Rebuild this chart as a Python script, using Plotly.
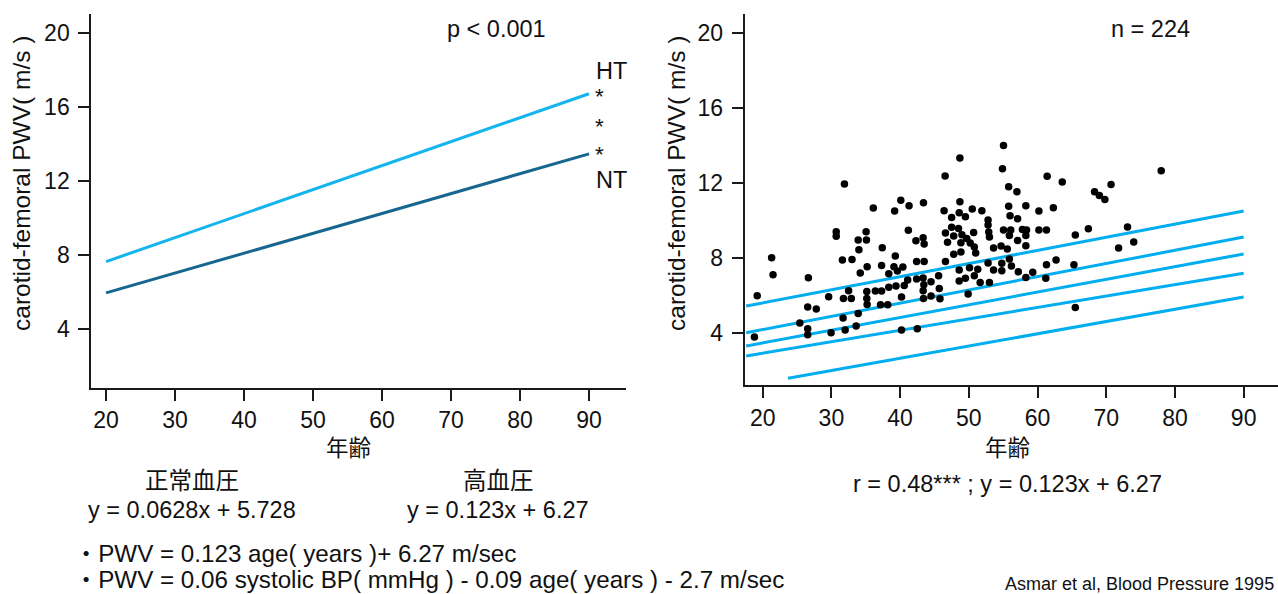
import plotly.graph_objects as go

# ---------------- data ----------------
age_ends = [20, 90]
ht_pwv = [7.65, 16.7]     # hypertensive regression line (left panel)
nt_pwv = [5.96, 13.46]    # normotensive regression line (left panel)

ref_x_start = [17.6, 17.6, 17.6, 17.6, 23.7]
ref_x_end = [90, 90, 90, 90, 90]
ref_y_start = [5.42, 4.00, 3.29, 2.76, 1.57]
ref_y_end = [10.49, 9.10, 8.20, 7.17, 5.90]

ages = [19.2, 18.8, 21.3, 21.5, 26.65, 25.4, 26.55, 27.8, 26.55, 26.55,
        29.6, 29.95, 31.9, 30.7, 30.7, 31.6, 33.0, 31.75, 32.5, 32.9,
        31.7, 32.0, 33.6, 33.9, 33.9, 35.1, 35.05, 34.0, 34.2, 35.2,
        36.1, 35.15, 35.15, 35.2, 36.4, 37.3, 37.3, 37.4, 37.15, 38.2,
        38.35, 38.35, 39.2, 40.1, 41.3, 39.3, 39.1, 39.6, 40.4, 39.4,
        40.6, 40.2, 40.2, 42.5, 41.2, 41.1, 42.3, 42.4, 43.5, 43.35,
        43.5, 43.4, 42.4, 43.35, 43.45, 43.35, 43.4, 44.5, 44.5, 45.6,
        45.7, 45.8, 46.55, 46.4, 46.6, 46.6, 46.9, 47.5, 47.5, 47.8,
        47.8, 48.5, 48.6, 48.7, 48.7, 48.85, 49.0, 48.85, 49.5, 49.7,
        50.2, 50.5, 50.7, 50.8, 51.0, 51.9, 48.6, 48.6, 49.5, 50.1,
        50.8, 51.3, 51.65, 49.9, 52.8, 53.0, 52.8, 52.8, 52.9, 53.0,
        53.6, 53.6, 54.7, 54.8, 54.8, 55.05, 54.9, 55.8, 55.8, 55.05,
        57.0, 61.4, 63.6, 78.0, 70.7, 68.3, 69.0, 69.8, 58.3, 60.2,
        62.3, 56.0, 57.1, 56.1, 57.8, 58.4, 60.2, 61.3, 55.9, 58.3,
        57.1, 55.6, 58.3, 65.5, 67.4, 73.1, 74.0, 71.8, 55.9, 56.2,
        57.2, 58.3, 59.3, 61.3, 61.2, 62.7, 65.3, 65.5]
pwv = [5.97, 3.77, 8.0, 7.09, 6.93, 4.52, 5.37, 5.26, 4.21, 3.89,
       5.92, 4.0, 11.93, 9.39, 9.14, 7.88, 7.91, 5.83, 6.24, 5.83,
       4.78, 4.14, 4.36, 5.03, 8.94, 8.94, 9.39, 8.43, 7.18, 7.52,
       10.65, 6.20, 5.83, 5.5, 6.22, 6.22, 7.59, 8.53, 5.49, 5.49,
       7.15, 6.42, 10.49, 11.06, 10.77, 8.09, 7.52, 7.29, 7.50, 6.49,
       6.52, 5.90, 4.14, 4.21, 9.46, 6.81, 8.91, 7.80, 7.80, 9.07,
       8.73, 10.93, 6.86, 6.92, 6.56, 6.24, 5.83, 6.72, 5.96, 7.04,
       6.36, 5.81, 12.36, 10.51, 9.32, 7.80, 8.82, 10.15, 9.62, 9.16,
       8.18, 9.56, 10.4, 10.99, 13.32, 8.80, 9.23, 8.30, 10.19, 9.03,
       8.78, 10.6, 9.35, 8.57, 8.25, 10.51, 7.34, 6.76, 6.90, 7.47,
       7.04, 7.38, 6.68, 6.06, 7.72, 6.68, 10.01, 9.74, 9.37, 9.10,
       8.52, 7.34, 8.62, 7.70, 7.30, 13.99, 12.75, 11.79, 10.74, 9.48,
       11.52, 12.34, 12.04, 12.64, 11.91, 11.52, 11.32, 11.11, 10.77, 10.49,
       10.67, 10.24, 10.08, 9.48, 9.51, 9.48, 9.48, 9.48, 9.19, 9.19,
       8.92, 8.46, 8.64, 9.21, 9.55, 9.64, 8.84, 8.52, 7.93, 7.56,
       7.25, 6.95, 7.22, 7.63, 6.90, 7.88, 7.63, 5.35]

x_ticks = [20, 30, 40, 50, 60, 70, 80, 90]
y_ticks = [4, 8, 12, 16, 20]

W, H = 1278, 594
FONT = "Liberation Sans, Arial, Noto Sans CJK JP, sans-serif"
LIGHT = "#14B4EE"
DARK = "#17668F"
AXC = "#1a1a1a"


def px(x):
    return x / W


def py(y):
    return 1 - y / H


fig = go.Figure()

fig.add_trace(go.Scatter(x=age_ends, y=ht_pwv, mode="lines",
                         line=dict(color=LIGHT, width=3), xaxis="x", yaxis="y",
                         showlegend=False))
fig.add_trace(go.Scatter(x=age_ends, y=nt_pwv, mode="lines",
                         line=dict(color=DARK, width=3), xaxis="x", yaxis="y",
                         showlegend=False))

for xs, xe, ys, ye in zip(ref_x_start, ref_x_end, ref_y_start, ref_y_end):
    fig.add_trace(go.Scatter(x=[xs, xe], y=[ys, ye], mode="lines",
                             line=dict(color="#00AEEF", width=3),
                             xaxis="x2", yaxis="y2", showlegend=False))

fig.add_trace(go.Scatter(x=ages, y=pwv, mode="markers",
                         marker=dict(color="black", size=7.5, line=dict(width=0)),
                         xaxis="x2", yaxis="y2", showlegend=False))

axis_common = dict(showline=True, linecolor=AXC, linewidth=2, ticks="outside",
                   ticklen=11, tickwidth=2, tickcolor=AXC, showgrid=False,
                   zeroline=False, tickfont=dict(family=FONT, size=23, color="#111"),
                   mirror=False)

fig.update_layout(
    width=W, height=H,
    margin=dict(l=0, r=0, t=0, b=0),
    paper_bgcolor="white", plot_bgcolor="white",
    font=dict(family=FONT, size=23, color="#111"),
    xaxis=dict(domain=[px(91.3), px(626)], range=[17.86, 95.36], tickvals=x_ticks,
               anchor="y", **axis_common),
    yaxis=dict(domain=[py(387.7), py(14)], range=[0.85, 21.0], tickvals=y_ticks,
               anchor="x", ticklabelstandoff=4, **axis_common),
    xaxis2=dict(domain=[px(744.7), 1.0], range=[17.38, 95.0], tickvals=x_ticks,
                anchor="y2", **axis_common),
    yaxis2=dict(domain=[py(385), py(14)], range=[1.21, 21.0], tickvals=y_ticks,
                anchor="x2", ticklabelstandoff=4, **axis_common),
)


def note(text, x, y, size=23.5, xanchor="center", angle=0):
    fig.add_annotation(text=text, x=px(x), y=py(y), xref="paper", yref="paper",
                       showarrow=False, xanchor=xanchor, yanchor="middle",
                       textangle=angle,
                       font=dict(family=FONT, size=size, color="#111"))


note("carotid-femoral PWV( m/s )", 22, 184, size=24.5, angle=-90)
note("carotid-femoral PWV( m/s )", 677, 184, size=24.5, angle=-90)
note("p < 0.001", 496, 29)
note("HT", 611, 71)
for sy in [97, 126, 154]:
    note("*", 599, sy, size=22.5)
note("NT", 611, 180)
note("n = 224", 1150, 29)
note("年齢", 348, 449, size=22.5)
note("年齢", 1007, 449, size=22.5)
note("正常血圧", 192, 481)
note("高血圧", 499, 481)
note("y = 0.0628x + 5.728", 192, 510)
note("y = 0.123x + 6.27", 498, 510)
note("r = 0.48*** ; y = 0.123x + 6.27", 1007, 484)
note("・PWV = 0.123 age( years )+ 6.27 m/sec", 72, 553, size=24.2, xanchor="left")
note("・PWV = 0.06 systolic BP( mmHg ) - 0.09 age( years ) - 2.7 m/sec", 72, 579,
     size=24.2, xanchor="left")
note("Asmar et al, Blood Pressure 1995", 1003, 584, size=18, xanchor="left")

fig.write_html("out.html", config={"displayModeBar": False},
               post_script="document.body.style.margin='0';document.body.style.padding='0';")
